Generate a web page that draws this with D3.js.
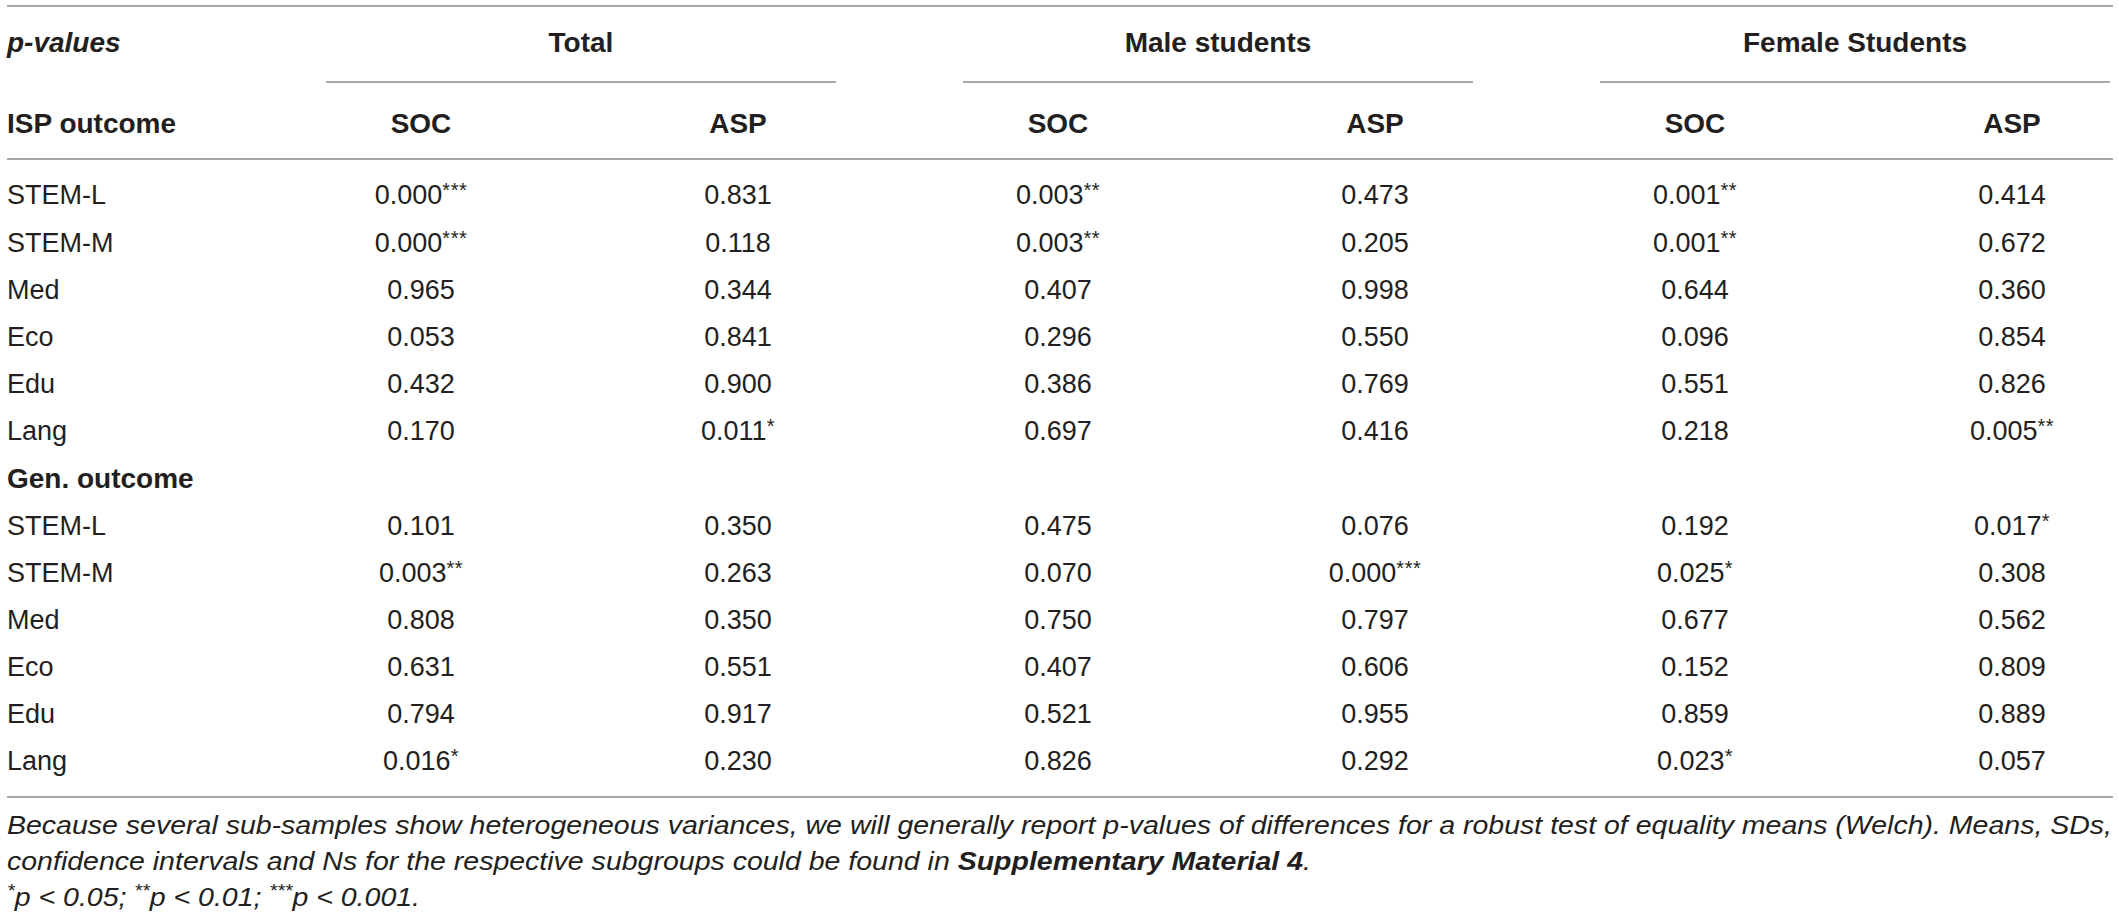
<!DOCTYPE html>
<html>
<head>
<meta charset="utf-8">
<script src="https://cdn.jsdelivr.net/npm/d3@7/dist/d3.min.js"></script>
<style>
  html, body { margin: 0; padding: 0; background: #fff; }
  svg { display: block; }
</style>
</head>
<body>
<svg id="chart" width="2119" height="921"></svg>
<script>
// ---------- DATA ----------
const groups = ["Total", "Male students", "Female Students"];
const subCols = ["SOC", "ASP"];
const sections = ["ISP outcome", "Gen. outcome"];
const outcomes = ["STEM-L", "STEM-M", "Med", "Eco", "Edu", "Lang"];

// ISP outcome p-values
const ispTotalSOC  = ["0.000***", "0.000***", "0.965", "0.053", "0.432", "0.170"];
const ispTotalASP  = ["0.831", "0.118", "0.344", "0.841", "0.900", "0.011*"];
const ispMaleSOC   = ["0.003**", "0.003**", "0.407", "0.296", "0.386", "0.697"];
const ispMaleASP   = ["0.473", "0.205", "0.998", "0.550", "0.769", "0.416"];
const ispFemaleSOC = ["0.001**", "0.001**", "0.644", "0.096", "0.551", "0.218"];
const ispFemaleASP = ["0.414", "0.672", "0.360", "0.854", "0.826", "0.005**"];

// Gen. outcome p-values
const genTotalSOC  = ["0.101", "0.003**", "0.808", "0.631", "0.794", "0.016*"];
const genTotalASP  = ["0.350", "0.263", "0.350", "0.551", "0.917", "0.230"];
const genMaleSOC   = ["0.475", "0.070", "0.750", "0.407", "0.521", "0.826"];
const genMaleASP   = ["0.076", "0.000***", "0.797", "0.606", "0.955", "0.292"];
const genFemaleSOC = ["0.192", "0.025*", "0.677", "0.152", "0.859", "0.023*"];
const genFemaleASP = ["0.017*", "0.308", "0.562", "0.809", "0.889", "0.057"];

const footnote1 = "Because several sub-samples show heterogeneous variances, we will generally report p-values of differences for a robust test of equality means (Welch). Means, SDs,";
const footnote2a = "confidence intervals and Ns for the respective subgroups could be found in ";
const footnote2b = "Supplementary Material 4";
const footnote2c = ".";
const sigNotes = [["*", "p < 0.05; "], ["**", "p < 0.01; "], ["***", "p < 0.001."]];

// ---------- LAYOUT ----------
const svg = d3.select("#chart");
const left = 7, right = 2113;
const textColor = "#231f20";
const lineColor = "#8a8a8a";
const bodyFont = "'Liberation Sans', Arial, Helvetica, sans-serif";

const isp = [ispTotalSOC, ispTotalASP, ispMaleSOC, ispMaleASP, ispFemaleSOC, ispFemaleASP];
const gen = [genTotalSOC, genTotalASP, genMaleSOC, genMaleASP, genFemaleSOC, genFemaleASP];

const rows = [];
outcomes.forEach((o, i) => rows.push({ label: o, values: isp.map(c => c[i]) }));
rows.push({ label: sections[1], header: true });
outcomes.forEach((o, i) => rows.push({ label: o, values: gen.map(c => c[i]) }));

const yRow = d3.scaleLinear().domain([0, rows.length - 1]).range([195, 761]);

const xGroup = d3.scaleLinear().domain([0, groups.length - 1]).range([326, 1600]);
const groupWidth = 510;
const xSub = d3.scaleOrdinal().domain(subCols).range([95, 412]);
const colX = (gi, si) => xGroup(gi) + xSub(subCols[si]);

// ---------- RULES ----------
const rules = [
  { x1: left, x2: right, y: 6 },
  { x1: left, x2: right, y: 159 },
  { x1: left, x2: right, y: 797 }
];
groups.forEach((g, i) => rules.push({ x1: xGroup(i), x2: xGroup(i) + groupWidth, y: 82 }));

svg.selectAll("line.rule").data(rules).join("line")
  .attr("class", "rule")
  .attr("x1", d => d.x1).attr("x2", d => d.x2)
  .attr("y1", d => d.y).attr("y2", d => d.y)
  .attr("stroke", lineColor).attr("stroke-width", 1.6);

// ---------- HEADERS ----------
svg.append("text")
  .attr("x", left).attr("y", 52)
  .attr("font-family", bodyFont).attr("font-size", 28)
  .attr("font-weight", "bold").attr("font-style", "italic")
  .attr("fill", textColor).text("p-values");

svg.selectAll("text.group").data(groups).join("text")
  .attr("class", "group")
  .attr("x", (d, i) => xGroup(i) + groupWidth / 2).attr("y", 52)
  .attr("text-anchor", "middle")
  .attr("font-family", bodyFont).attr("font-size", 28).attr("font-weight", "bold")
  .attr("fill", textColor).text(d => d);

svg.append("text")
  .attr("x", left).attr("y", 133)
  .attr("font-family", bodyFont).attr("font-size", 28).attr("font-weight", "bold")
  .attr("fill", textColor).text(sections[0]);

const subHeads = [];
groups.forEach((g, gi) => subCols.forEach((s, si) => subHeads.push({ s, x: colX(gi, si) })));
svg.selectAll("text.sub").data(subHeads).join("text")
  .attr("class", "sub")
  .attr("x", d => d.x).attr("y", 133)
  .attr("text-anchor", "middle")
  .attr("font-family", bodyFont).attr("font-size", 28).attr("font-weight", "bold")
  .attr("fill", textColor).text(d => d.s);

// ---------- BODY ----------
const rowG = svg.selectAll("g.row").data(rows).join("g")
  .attr("class", "row")
  .attr("transform", (d, i) => `translate(0,${yRow(i)})`);

rowG.append("text")
  .attr("x", left).attr("dy", "0.35em")
  .attr("font-family", bodyFont)
  .attr("font-size", d => d.header ? 28 : 27)
  .attr("font-weight", d => d.header ? "bold" : "normal")
  .attr("fill", textColor)
  .text(d => d.label);

rowG.each(function (d) {
  if (!d.values) return;
  const g = d3.select(this);
  d.values.forEach((v, ci) => {
    const m = v.match(/^([0-9.]+)(\**)$/);
    const t = g.append("text")
      .attr("x", colX(Math.floor(ci / 2), ci % 2))
      .attr("dy", "0.35em")
      .attr("text-anchor", "middle")
      .attr("font-family", bodyFont).attr("font-size", 27)
      .attr("fill", textColor);
    t.append("tspan").text(m[1]);
    if (m[2]) {
      t.append("tspan").attr("font-size", 20).attr("letter-spacing", 0.5)
        .attr("dy", -7).text(m[2]);
    }
  });
});

// ---------- FOOTNOTES ----------
const fn1 = svg.append("text")
  .attr("x", left).attr("y", 834)
  .attr("font-family", bodyFont).attr("font-size", 26).attr("font-style", "italic")
  .attr("fill", textColor)
  .text(footnote1);

const fn2 = svg.append("text")
  .attr("x", left).attr("y", 870)
  .attr("font-family", bodyFont).attr("font-size", 26).attr("font-style", "italic")
  .attr("fill", textColor);
fn2.append("tspan").text(footnote2a);
fn2.append("tspan").attr("font-weight", "bold").text(footnote2b);
fn2.append("tspan").text(footnote2c);

const fn3 = svg.append("text")
  .attr("x", left).attr("y", 906)
  .attr("font-family", bodyFont).attr("font-size", 26).attr("font-style", "italic")
  .attr("fill", textColor);
sigNotes.forEach(([stars, txt]) => {
  fn3.append("tspan").attr("font-size", 18).attr("dy", -9).text(stars);
  fn3.append("tspan").attr("font-size", 26).attr("dy", 9).text(txt);
});

// stretch footnotes uniformly so the first line spans the table width
const natural1 = fn1.node().getComputedTextLength();
const ratio = (right - 1 - left) / natural1;
[fn1, fn2, fn3].forEach(t => {
  const n = t.node().getComputedTextLength();
  t.attr("textLength", n * ratio).attr("lengthAdjust", "spacingAndGlyphs");
});
</script>
</body>
</html>
